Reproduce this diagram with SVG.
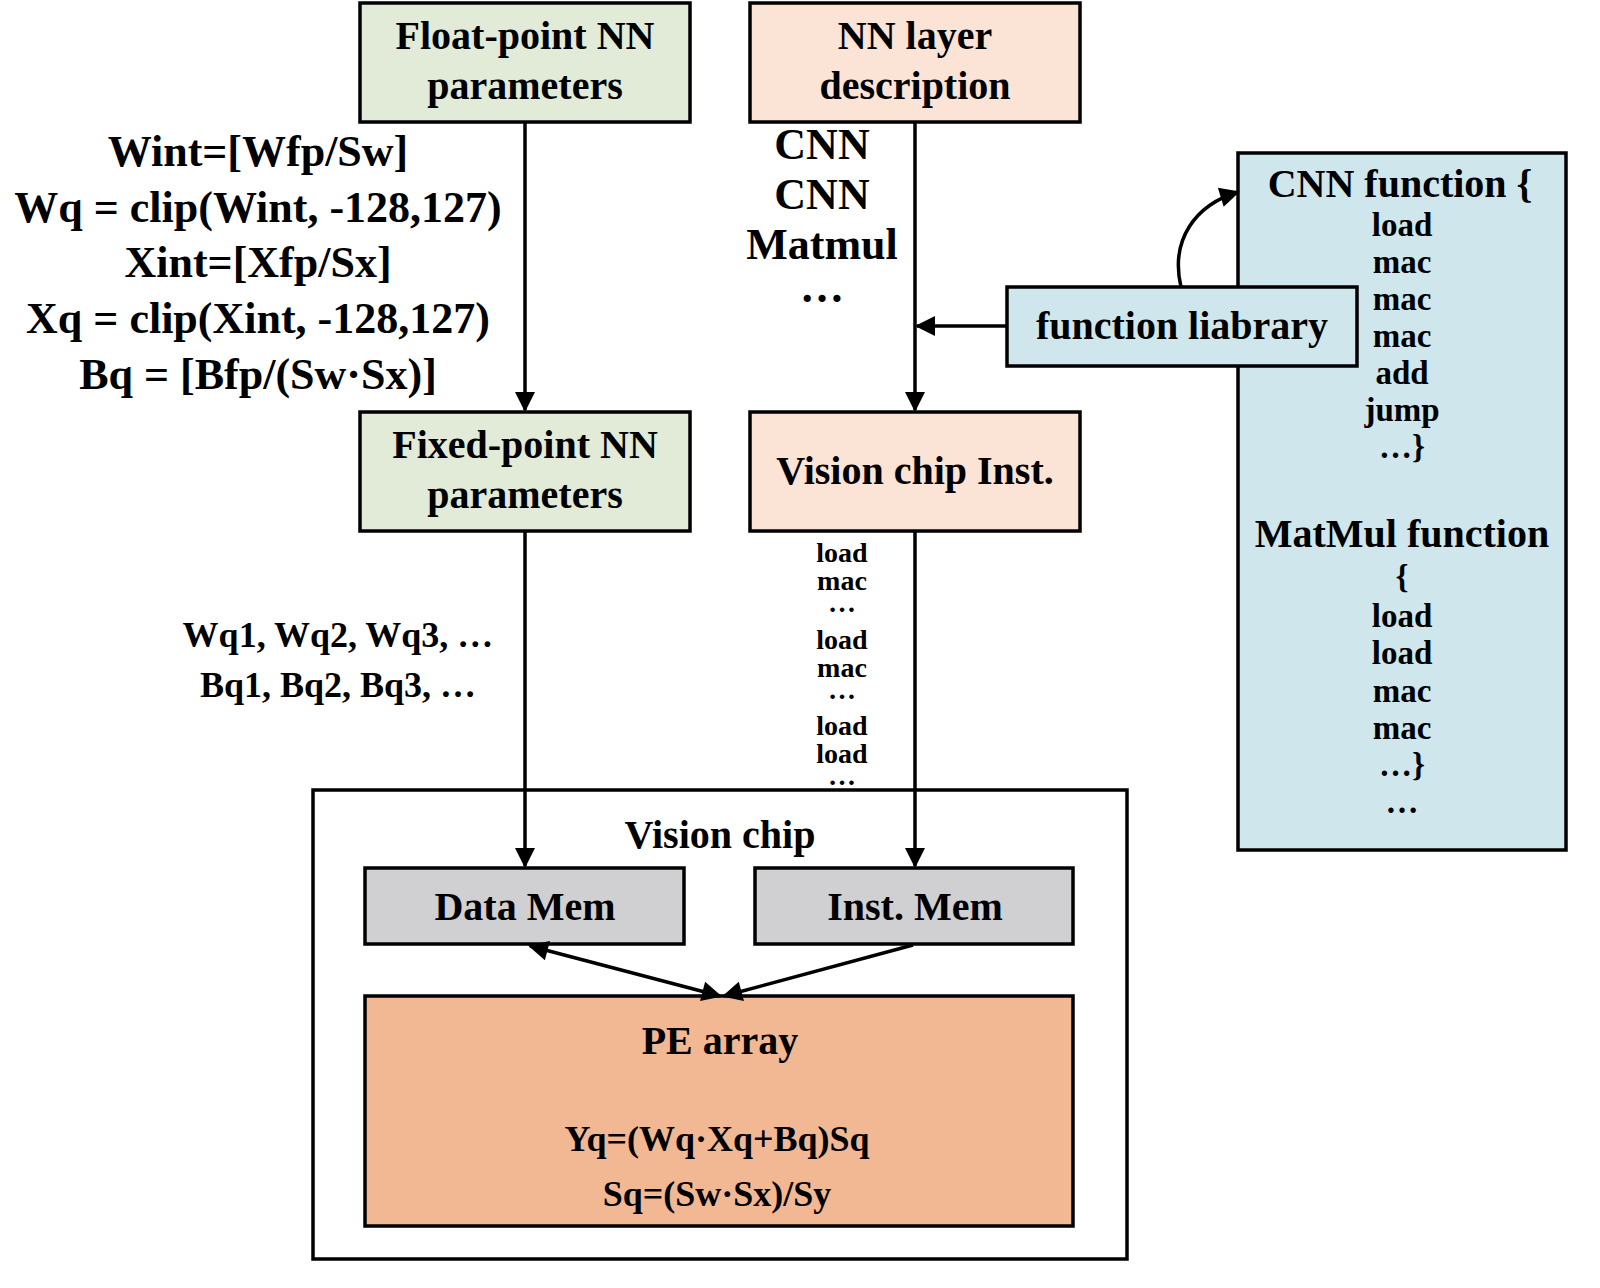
<svg xmlns="http://www.w3.org/2000/svg" width="1600" height="1288" viewBox="0 0 1600 1288">
<style>
text{font-family:"Liberation Serif","Times New Roman",serif;font-weight:bold;fill:#000;text-anchor:middle}
.b{stroke:#000;stroke-width:3.5}
.c{stroke:#000;stroke-width:3.5;fill:none}
.t{font-size:40px}
.f{font-size:44px}
.s{font-size:36px}
.i{font-size:33px}
.k{font-size:28px}
</style>
<defs>
<marker id="a" viewBox="0 0 10 10" refX="9" refY="5" markerWidth="24" markerHeight="20" markerUnits="userSpaceOnUse" orient="auto-start-reverse"><path d="M0,0L10,5L0,10z"/></marker>
</defs>
<rect width="1600" height="1288" fill="#fff"/>
<g id="panel"><rect class="b" x="1238" y="153" width="328" height="697" fill="#cfe6ec"/>
<text class="t" x="1400" y="197">CNN function {</text>
<g class="i"><text x="1402" y="236">load</text><text x="1402" y="273">mac</text><text x="1402" y="310">mac</text><text x="1402" y="347">mac</text><text x="1402" y="384">add</text><text x="1402" y="421">jump</text><text x="1402" y="458">…}</text></g>
<text class="t" x="1402" y="547">MatMul function</text>
<g class="i"><text x="1402" y="588">{</text><text x="1402" y="627">load</text><text x="1402" y="664">load</text><text x="1402" y="702">mac</text><text x="1402" y="739">mac</text><text x="1402" y="776">…}</text><text x="1402" y="813">…</text></g></g>
<g id="float"><rect class="b" x="360" y="3" width="330" height="119" fill="#e2ead8"/><text class="t" x="525" y="49">Float-point NN</text><text class="t" x="525" y="99">parameters</text></g>
<g id="layer"><rect class="b" x="750" y="3" width="330" height="119" fill="#fbe3d6"/><text class="t" x="915" y="49">NN layer</text><text class="t" x="915" y="99">description</text></g>
<g id="fixed"><rect class="b" x="360" y="412" width="330" height="119" fill="#e2ead8"/><text class="t" x="525" y="458">Fixed-point NN</text><text class="t" x="525" y="508">parameters</text></g>
<g id="inst"><rect class="b" x="750" y="412" width="330" height="119" fill="#fbe3d6"/><text class="t" x="915" y="484">Vision chip Inst.</text></g>
<g id="lib"><rect class="b" x="1007" y="287" width="350" height="79" fill="#cfe6ec"/><text class="t" x="1182" y="339">function liabrary</text></g>
<g id="chip"><rect class="b" x="313" y="790" width="814" height="469" fill="#fff"/><text class="t" x="720" y="848">Vision chip</text></g>
<g id="dmem"><rect class="b" x="365" y="868" width="319" height="76" fill="#d0d0d2"/><text class="t" x="525" y="920">Data Mem</text></g>
<g id="imem"><rect class="b" x="755" y="868" width="318" height="76" fill="#d0d0d2"/><text class="t" x="915" y="920">Inst. Mem</text></g>
<g id="pe"><rect class="b" x="365" y="996" width="708" height="230" fill="#f2b793"/><text class="t" x="720" y="1054">PE array</text><text class="s" x="717" y="1151">Yq=(Wq·Xq+Bq)Sq</text><text class="s" x="717" y="1206">Sq=(Sw·Sx)/Sy</text></g>
<g id="labels">
<g class="f"><text x="258" y="166">Wint=[Wfp/Sw]</text><text x="258" y="222">Wq = clip(Wint, -128,127)</text><text x="258" y="277">Xint=[Xfp/Sx]</text><text x="258" y="333">Xq = clip(Xint, -128,127)</text><text x="258" y="389">Bq = [Bfp/(Sw·Sx)]</text></g>
<g class="f"><text x="822" y="159">CNN</text><text x="822" y="209">CNN</text><text x="822" y="259">Matmul</text><text x="822" y="302">…</text></g>
<g class="s"><text x="338" y="647">Wq1, Wq2, Wq3, …</text><text x="338" y="697">Bq1, Bq2, Bq3, …</text></g>
<g class="k"><text x="842" y="562">load</text><text x="842" y="590">mac</text><text x="842" y="612">…</text><text x="842" y="649">load</text><text x="842" y="677">mac</text><text x="842" y="699">…</text><text x="842" y="735">load</text><text x="842" y="763">load</text><text x="842" y="785">…</text></g>
</g>
<g id="connectors">
<line class="c" x1="525" y1="122" x2="525" y2="410" marker-end="url(#a)"/>
<line class="c" x1="915" y1="122" x2="915" y2="410" marker-end="url(#a)"/>
<line class="c" x1="1007" y1="326" x2="917" y2="326" marker-end="url(#a)"/>
<path class="c" d="M1181,287 C1170,240 1195,205 1238,192" marker-end="url(#a)"/>
<line class="c" x1="525" y1="531" x2="525" y2="866" marker-end="url(#a)"/>
<line class="c" x1="915" y1="531" x2="915" y2="866" marker-end="url(#a)"/>
<line class="c" x1="530" y1="946" x2="720" y2="996" marker-start="url(#a)" marker-end="url(#a)"/>
<line class="c" x1="913" y1="945" x2="724" y2="996" marker-end="url(#a)"/>
</g>
</svg>
